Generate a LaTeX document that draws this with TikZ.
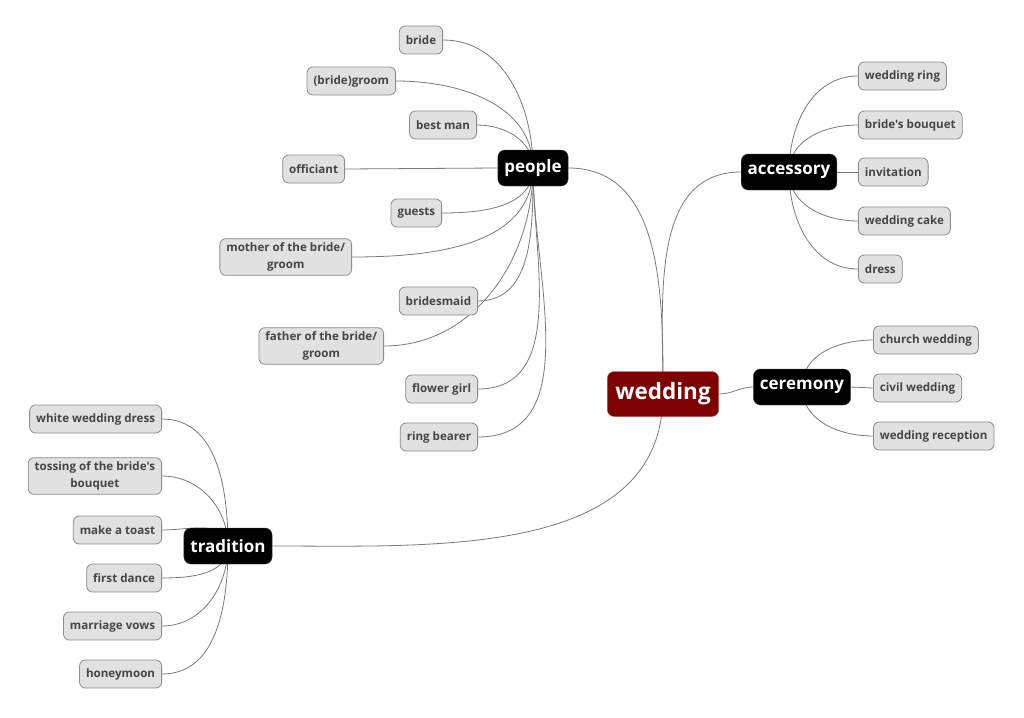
\documentclass[tikz,border=0pt]{standalone}
\usepackage{fontspec}
\setmainfont{Open Sans}[Ligatures=TeXOff]
\usetikzlibrary{backgrounds}
\definecolor{linec}{HTML}{7A7A7A}
\definecolor{boxfill}{HTML}{E1E1E1}
\definecolor{boxborder}{HTML}{8C8C8C}
\definecolor{boxtext}{HTML}{454545}
\definecolor{centralfill}{HTML}{7F0000}
\definecolor{centralborder}{HTML}{B05050}
\begin{document}
\begin{tikzpicture}[x=1pt,y=1pt,
  leaf/.style={draw=boxborder, fill=boxfill, rounded corners=6pt, text=boxtext,
    font=\fontsize{11.6}{17}\selectfont\bfseries, inner xsep=6.5pt, inner ysep=4pt,
    minimum height=28pt, align=center, line width=0.8pt},
  topic/.style={fill=black, draw=black!70, rounded corners=7pt, text=white,
    font=\fontsize{17}{20}\selectfont\bfseries, inner xsep=6.5pt, minimum height=36pt},
  central/.style={fill=centralfill, draw=centralborder, rounded corners=7pt, text=white,
    font=\fontsize{22.5}{26}\selectfont\bfseries, inner xsep=8pt, minimum height=45pt},
  conn/.style={draw=linec, line width=0.8pt}]
\useasboundingbox (0,0) rectangle (1024,-717);

% main topics
\node[central] (wed) at (663,-394) {wedding};
\node[topic] (peo) at (533,-168) {people};
\node[topic] (acc) at (789,-172) {accessory};
\node[topic] (cer) at (802,-387) {ceremony};
\node[topic] (tra) at (228,-546) {tradition};

% people children
\node[leaf, anchor=east] (p1) at (443,-40) {bride};
\node[leaf, anchor=east] (p2) at (396,-81) {(bride)groom};
\node[leaf, anchor=east] (p3) at (477,-125) {best man};
\node[leaf, anchor=east] (p4) at (345,-169) {officiant};
\node[leaf, anchor=east] (p5) at (442,-213) {guests};
\node[leaf, anchor=east] (p6) at (352,-257) {mother of the bride/\\groom};
\node[leaf, anchor=east] (p7) at (478,-301) {bridesmaid};
\node[leaf, anchor=east] (p8) at (384,-346) {father of the bride/\\groom};
\node[leaf, anchor=east] (p9) at (478,-389) {flower girl};
\node[leaf, anchor=east] (p10) at (478,-437) {ring bearer};

% accessory children
\node[leaf, anchor=west] (a1) at (858,-76) {wedding ring};
\node[leaf, anchor=west] (a2) at (858,-125) {bride's bouquet};
\node[leaf, anchor=west] (a3) at (858,-172) {invitation};
\node[leaf, anchor=west] (a4) at (858,-221) {wedding cake};
\node[leaf, anchor=west] (a5) at (858,-269) {dress};

% ceremony children
\node[leaf, anchor=west] (c1) at (873,-340) {church wedding};
\node[leaf, anchor=west] (c2) at (873,-388) {civil wedding};
\node[leaf, anchor=west] (c3) at (873,-436) {wedding reception};

% tradition children
\node[leaf, anchor=east] (t1) at (162,-419) {white wedding dress};
\node[leaf, anchor=east] (t2) at (162,-476) {tossing of the bride's\\bouquet};
\node[leaf, anchor=east] (t3) at (162,-530) {make a toast};
\node[leaf, anchor=east] (t4) at (162,-578) {first dance};
\node[leaf, anchor=east] (t5) at (162,-626) {marriage vows};
\node[leaf, anchor=east] (t6) at (162,-674) {honeymoon};

\begin{pgfonlayer}{background}
  \fill[white] (0,0) rectangle (1024,-717);
  % central to topics
  \draw[conn] (wed.center) to[out=90,in=0] (peo.east);
  \draw[conn] (wed.center) to[out=90,in=180] (acc.west);
  \draw[conn] (wed.east) to[out=0,in=180] (cer.west);
  \draw[conn] (wed.center) to[out=-90,in=0] (tra.east);
  % people
  \draw[conn] (peo.center) to[out=90,in=0] (p1.east);
  \draw[conn] (peo.center) to[out=90,in=0] (p2.east);
  \draw[conn] (peo.center) to[out=90,in=0] (p3.east);
  \draw[conn] (peo.west) -- (p4.east);
  \draw[conn] (peo.center) to[out=-90,in=0] (p5.east);
  \draw[conn] (peo.center) to[out=-90,in=0] (p6.east);
  \draw[conn] (peo.center) to[out=-90,in=0] (p7.east);
  \draw[conn] (peo.center) to[out=-90,in=0] (p8.east);
  \draw[conn] (peo.center) to[out=-90,in=0] (p9.east);
  \draw[conn] (peo.center) to[out=-90,in=0] (p10.east);
  % accessory
  \draw[conn] (acc.center) to[out=90,in=180] (a1.west);
  \draw[conn] (acc.center) to[out=90,in=180] (a2.west);
  \draw[conn] (acc.east) -- (a3.west);
  \draw[conn] (acc.center) to[out=-90,in=180] (a4.west);
  \draw[conn] (acc.center) to[out=-90,in=180] (a5.west);
  % ceremony
  \draw[conn] (cer.center) to[out=90,in=180] (c1.west);
  \draw[conn] (cer.east) -- (c2.west);
  \draw[conn] (cer.center) to[out=-90,in=180] (c3.west);
  % tradition
  \draw[conn] (tra.center) to[out=90,in=0] (t1.east);
  \draw[conn] (tra.center) to[out=90,in=0] (t2.east);
  \draw[conn] (tra.center) to[out=90,in=0] (t3.east);
  \draw[conn] (tra.center) to[out=-90,in=0] (t4.east);
  \draw[conn] (tra.center) to[out=-90,in=0] (t5.east);
  \draw[conn] (tra.center) to[out=-90,in=0] (t6.east);
\end{pgfonlayer}
\end{tikzpicture}
\end{document}
